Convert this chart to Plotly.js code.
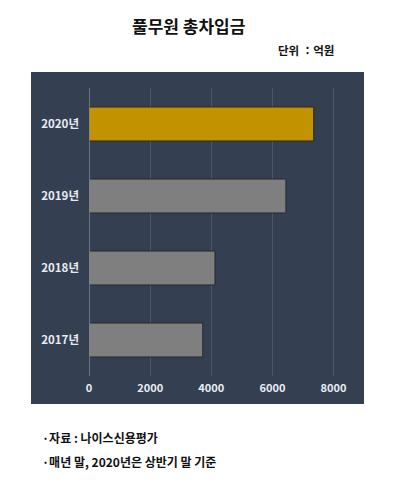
<!DOCTYPE html>
<html>
<head>
<meta charset="utf-8">
<script src="https://cdn.plot.ly/plotly-3.0.1.min.js"></script>
<style>html,body{margin:0;padding:0;background:#fff;}#chart{width:400px;height:485px;}</style>
</head>
<body>
<div id="chart"></div>
<script>
var categories = ['2017년', '2018년', '2019년', '2020년'];
var values = [3720, 4120, 6440, 7350];
var barColors = ['#7f7f7f', '#7f7f7f', '#7f7f7f', '#c39200'];
var xTicks = [0, 2000, 4000, 6000, 8000];

var FONT = '"Noto Sans CJK KR", "Noto Sans", sans-serif';

var trace = {
  type: 'bar',
  orientation: 'h',
  y: categories,
  x: values,
  marker: {color: barColors, line: {color: 'rgba(35,35,30,0.85)', width: 1}},
  hoverinfo: 'none'
};

var W = 400, H = 485;
var L = 89, R = 42, T = 88, B = 109;
var pw = W - L - R, ph = H - T - B;
function px(x) { return (x - L) / pw; }
function py(y) { return (H - B - y) / ph; }

var layout = {
  width: W, height: H,
  margin: {l: L, r: R, t: T, b: B, pad: 0},
  paper_bgcolor: '#ffffff',
  plot_bgcolor: 'rgba(0,0,0,0)',
  showlegend: false,
  bargap: 0.53,
  font: {family: FONT, color: '#ffffff'},
  xaxis: {
    range: [0, 8800],
    tickvals: xTicks,
    ticktext: xTicks.map(function (v) { return '<b>' + v + '</b>'; }),
    showgrid: true,
    gridcolor: '#4c5669',
    gridwidth: 1,
    zeroline: false,
    showline: false,
    ticks: '',
    ticklabelstandoff: 4,
    tickfont: {family: FONT, size: 11, color: '#e8ecf2'},
    fixedrange: true
  },
  yaxis: {
    type: 'category',
    categoryorder: 'array',
    categoryarray: categories,
    tickvals: categories,
    ticktext: categories.map(function (c) { return '<b>' + c + '</b>'; }),
    range: [-0.5, 3.5],
    showgrid: false,
    zeroline: false,
    showline: false,
    ticks: '',
    ticklabelstandoff: 9,
    tickfont: {family: FONT, size: 11.5, color: '#e8ecf2'},
    fixedrange: true
  },
  shapes: [
    {type: 'rect', xref: 'paper', yref: 'paper', layer: 'below',
     x0: px(31), x1: px(364), y0: py(404), y1: py(72),
     fillcolor: '#343f52', line: {width: 0}},
    {type: 'line', xref: 'x', yref: 'paper', layer: 'above',
     x0: 0, x1: 0, y0: 0, y1: 1,
     line: {color: '#a3abbb', width: 1}}
  ],
  annotations: [
    {text: '<b>풀무원 총차입금</b>', xref: 'paper', yref: 'paper',
     x: px(188), y: py(25), xanchor: 'center', yanchor: 'middle', showarrow: false,
     font: {family: FONT, size: 17, color: '#111111'}},
    {text: '<b>단위 ：억원</b>', xref: 'paper', yref: 'paper',
     x: px(336), y: py(50), xanchor: 'right', yanchor: 'middle', showarrow: false,
     font: {family: FONT, size: 11.5, color: '#111111'}},
    {text: '<b>·자료 : 나이스신용평가</b>', xref: 'paper', yref: 'paper',
     x: px(40), y: py(437), xanchor: 'left', yanchor: 'middle', showarrow: false,
     font: {family: FONT, size: 12, color: '#111111'}},
    {text: '<b>·매년 말, 2020년은 상반기 말 기준</b>', xref: 'paper', yref: 'paper',
     x: px(40), y: py(461), xanchor: 'left', yanchor: 'middle', showarrow: false,
     font: {family: FONT, size: 12, color: '#111111'}}
  ]
};

Plotly.newPlot('chart', [trace], layout, {staticPlot: true, displayModeBar: false});
</script>
</body>
</html>
